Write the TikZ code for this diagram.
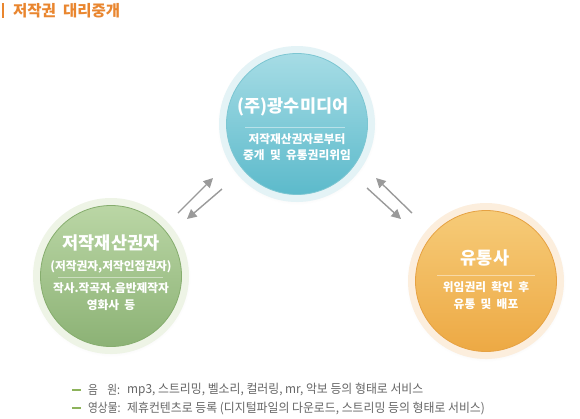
\documentclass[tikz,border=0pt]{standalone}
\usepackage{fontspec}
\newfontfamily\kr{Noto Sans CJK KR}
\newfontfamily\krw{Noto Sans CJK KR}[WordSpace=2]
\newfontfamily\krn{Noto Sans CJK KR}[FakeStretch=0.95]
\newfontfamily\krk{Noto Sans CJK KR}[FakeStretch=0.85]
\usetikzlibrary{arrows.meta,shadows}
\definecolor{ttl}{HTML}{E9862F}
\definecolor{tealrim}{HTML}{E4F3F6}
\definecolor{tealtop}{HTML}{A6DCE5}
\definecolor{tealmid}{HTML}{70C6D4}
\definecolor{tealbot}{HTML}{5CBACB}
\definecolor{tealbd}{HTML}{7CC6D2}
\definecolor{greenrim}{HTML}{EEF4E6}
\definecolor{greentop}{HTML}{BAD6A5}
\definecolor{greenmid}{HTML}{98BD81}
\definecolor{greenbot}{HTML}{8CB275}
\definecolor{greenbd}{HTML}{86AD6E}
\definecolor{orgrim}{HTML}{FCEEDD}
\definecolor{orgtop}{HTML}{F6CB78}
\definecolor{orgmid}{HTML}{EFB24F}
\definecolor{orgbot}{HTML}{EDA944}
\definecolor{orgbd}{HTML}{E6A243}
\definecolor{arr}{HTML}{9A9A9A}
\definecolor{legtxt}{HTML}{666666}
\definecolor{legdash}{HTML}{8DB35B}
\begin{document}
\begin{tikzpicture}[x=1pt,y=-1pt,
  rim/.style={circle,minimum size=156pt,inner sep=0pt,fill=#1,
    circular drop shadow={opacity=0.12,shadow xshift=0pt,shadow yshift=-1pt,shadow scale=1.02}},
  disc/.style n args={4}{circle,minimum size=141pt,inner sep=0pt,top color=#1,middle color=#2,bottom color=#3,draw=#4,line width=0.8pt},
  ctitle/.style={text=white,font=\kr\bfseries\fontsize{17.5}{20}\selectfont,inner sep=0pt},
  csub/.style={text=white,font=\krw\bfseries\fontsize{11.7}{16.5}\selectfont,inner sep=0pt,align=center},
  sepline/.style={white,opacity=0.45,line width=0.7pt},
  flow/.style={arr,line width=1.4pt,-{Triangle[length=9.5pt,width=9.5pt]}},
  legtext/.style={text=legtxt,font=\krn\fontsize{12.5}{14}\selectfont,inner sep=0pt,anchor=west},
  legkey/.style={text=legtxt,font=\krk\fontsize{12.5}{14}\selectfont,inner sep=0pt,anchor=west},
  legmark/.style={legdash,line width=2pt}]
\useasboundingbox (0,0) rectangle (580,418);
% heading
\coordinate (barT) at (3,3);
\coordinate (barB) at (3,18);
\draw[ttl,line width=1.6pt] (barT) -- (barB);
\node[text=ttl,font=\kr\bfseries\fontsize{15.5}{17}\selectfont,anchor=west,inner sep=0pt] (heading) at (13,10.5) {저작권 대리중개};
% top circle
\node[rim=tealrim] (topR) at (297,124) {};
\node[disc={tealtop}{tealmid}{tealbot}{tealbd}] (topC) at (297,124) {};
\node[ctitle] (topT) at (293,107) {(주)광수미디어};
\draw[sepline] (245,127) -- (345,127);
\node[csub] (topS) at (297,147) {저작재산권자로부터\\중개 및 유통권리위임};
% left circle
\node[rim=greenrim] (leftR) at (111,276) {};
\node[disc={greentop}{greenmid}{greenbot}{greenbd}] (leftC) at (111,276) {};
\node[ctitle] (leftT) at (111,243) {저작재산권자};
\node[csub] (leftU) at (111,267) {(저작권자,저작인접권자)};
\draw[sepline] (58,277) -- (163,277);
\node[csub] (leftS) at (111,296.5) {작사.작곡자.음반제작자\\영화사 등};
% right circle
\node[rim=orgrim] (rightR) at (486,281) {};
\node[disc={orgtop}{orgmid}{orgbot}{orgbd}] (rightC) at (486,281) {};
\node[ctitle] (rightT) at (485,258) {유통사};
\draw[sepline] (437,275) -- (535,275);
\node[csub] (rightS) at (486,295.5) {위임권리 확인 후\\유통 및 배포};
% arrows
\coordinate (a1s) at (178,213); \coordinate (a1e) at (213,178);
\coordinate (a2s) at (222,189); \coordinate (a2e) at (187,219);
\coordinate (b1s) at (412,213); \coordinate (b1e) at (376,178);
\coordinate (b2s) at (367,188); \coordinate (b2e) at (401,219);
\draw[flow] (a1s) -- (a1e);
\draw[flow] (a2s) -- (a2e);
\draw[flow] (b1s) -- (b1e);
\draw[flow] (b2s) -- (b2e);
% legend
\coordinate (m1a) at (72,390); \coordinate (m1b) at (81,390);
\coordinate (m2a) at (72,408); \coordinate (m2b) at (81,408);
\draw[legmark] (m1a) -- (m1b);
\draw[legmark] (m2a) -- (m2b);
\node[legkey] (l1k) at (88,390) {\makebox[32pt][s]{음\hfill 원:}};
\node[legtext] (l1v) at (127,390) {mp3, 스트리밍, 벨소리, 컬러링, mr, 악보 등의 형태로 서비스};
\node[legkey] (l2k) at (88,408) {영상물:};
\node[legtext] (l2v) at (127,408) {제휴컨텐츠로 등록 (디지털파일의 다운로드, 스트리밍 등의 형태로 서비스)};
\end{tikzpicture}
\end{document}
